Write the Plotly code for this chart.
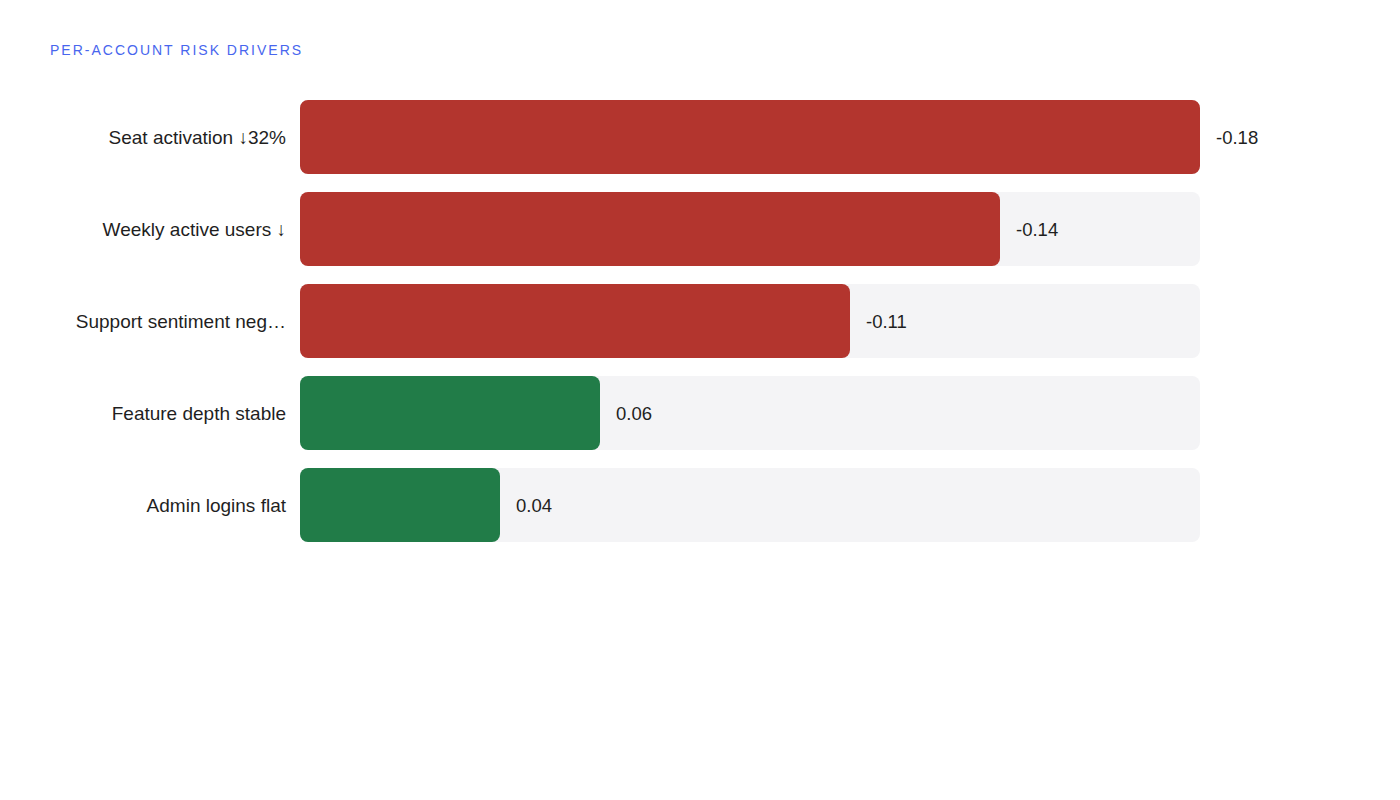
import plotly.graph_objects as go

drivers = ['Seat activation ↓32%', 'Weekly active users ↓', 'Support sentiment neg…',
           'Feature depth stable', 'Admin logins flat']
impact = [-0.18, -0.14, -0.11, 0.06, 0.04]
value_labels = ['-0.18', '-0.14', '-0.11', '0.06', '0.04']
title = 'PER-ACCOUNT RISK DRIVERS'

track_max = max(abs(v) for v in impact)
bar_colors = ['#b3352e' if v < 0 else '#217c48' for v in impact]
font_family = 'Helvetica Neue, Helvetica, Arial, Liberation Sans, sans-serif'

fig = go.Figure()

# grey track behind every bar (explicit base -> plotly rounds both ends)
fig.add_trace(go.Bar(y=drivers, x=[track_max] * len(drivers), base=[0] * len(drivers),
                     orientation='h', marker=dict(color='#f4f4f6', line_width=0),
                     hoverinfo='skip', showlegend=False))

# actual driver magnitude
fig.add_trace(go.Bar(y=drivers, x=[abs(v) for v in impact], base=[0] * len(drivers),
                     orientation='h', marker=dict(color=bar_colors, line_width=0),
                     customdata=impact, hovertemplate='%{y}: %{customdata}<extra></extra>',
                     showlegend=False))

# value labels just right of each bar
for name, v, lab in zip(drivers, impact, value_labels):
    fig.add_annotation(x=abs(v), y=name, xref='x', yref='y', text=lab,
                       showarrow=False, xanchor='left', xshift=14,
                       font=dict(size=18.5, color='#1f1f1f', family=font_family))

# chart heading, placed in pixel terms relative to the plot area
fig.add_annotation(xref='paper', yref='paper', x=(40 - 292) / 900, y=1 + (83 - 42) / 460,
                   text='<span style="letter-spacing:2px">' + title + '</span>',
                   showarrow=False, xanchor='left', yanchor='middle',
                   font=dict(size=14, color='#4866ee', family=font_family))

fig.update_layout(
    width=1400, height=800,
    barmode='overlay', bargap=0.196, barcornerradius=8,
    plot_bgcolor='white', paper_bgcolor='white',
    margin=dict(l=292, r=208, t=83, b=257),
    font=dict(family=font_family, size=18.5, color='#1f1f1f'),
    xaxis=dict(range=[0, track_max], visible=False, fixedrange=True),
    yaxis=dict(categoryorder='array', categoryarray=drivers, autorange='reversed',
               showgrid=False, zeroline=False, showline=False, ticks='',
               ticklabelstandoff=13, tickfont=dict(size=19, color='#1f1f1f')),
)

fig.write_html('out.html')
